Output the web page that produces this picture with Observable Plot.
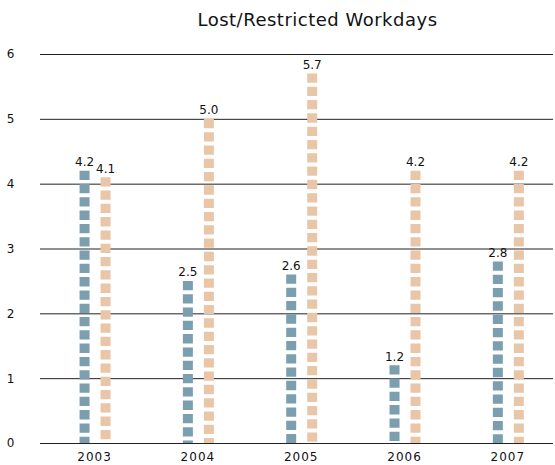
<!DOCTYPE html>
<html>
<head>
<meta charset="utf-8">
<script src="https://cdn.jsdelivr.net/npm/d3@7"></script>
<script src="https://cdn.jsdelivr.net/npm/@observablehq/plot@0.6"></script>
<style>
  body { margin: 0; background: #fff; }
  #title { height: 36px; line-height: 40px; text-align: center; font-family: "DejaVu Sans", sans-serif; font-size: 18px; color: #111; padding-left: 80px; letter-spacing: 0.5px; }
</style>
</head>
<body>
<div id="title">Lost/Restricted Workdays</div>
<div id="chart"></div>
<script>
const years = [2003, 2004, 2005, 2006, 2007];
const seriesA = [4.2, 2.5, 2.6, 1.2, 2.8];
const seriesB = [4.1, 5.0, 5.7, 4.2, 4.2];
const yTicks = [0, 1, 2, 3, 4, 5, 6];

const dataA = years.map((y, i) => ({year: y, value: seriesA[i]}));
const dataB = years.map((y, i) => ({year: y, value: seriesB[i]}));

const colorA = "#7b9fae";
const colorB = "#e8c6a7";
const font = "DejaVu Sans, sans-serif";

const chart = Plot.plot({
  width: 555,
  height: 429,
  marginTop: 18,
  marginBottom: 22,
  marginLeft: 40,
  marginRight: 2,
  style: {fontFamily: font, fontSize: "12px", color: "#111", background: "#fff"},
  x: {domain: [2002.5, 2007.5], range: [42.4, 559], ticks: years, tickFormat: d => String(d), tickSize: 0, tickPadding: 9, label: null},
  y: {domain: [0, 6], ticks: yTicks, tickFormat: d => String(d), tickSize: 0, tickPadding: 26, label: null},
  marks: [
    Plot.ruleY(yTicks, {stroke: "#222", strokeWidth: 1}),
    Plot.ruleX(dataA, {x: "year", y1: "value", y2: 0, dx: -10, stroke: colorA, strokeWidth: 10, strokeDasharray: "9.3,4"}),
    Plot.ruleX(dataB, {x: "year", y1: "value", y2: 0, dx: 11, stroke: colorB, strokeWidth: 10, strokeDasharray: "9.3,4"}),
    Plot.text(dataA, {x: "year", y: "value", dx: -10, dy: -9, text: d => d.value.toFixed(1), fill: "#111", fontSize: 12}),
    Plot.text(dataB, {x: "year", y: "value", dx: 11, dy: -9, text: d => d.value.toFixed(1), fill: "#111", fontSize: 12})
  ]
});
chart.querySelectorAll("g[aria-label='x-axis tick label'] text").forEach(t => t.setAttribute("letter-spacing", "1"));
document.getElementById("chart").appendChild(chart);
</script>
</body>
</html>
